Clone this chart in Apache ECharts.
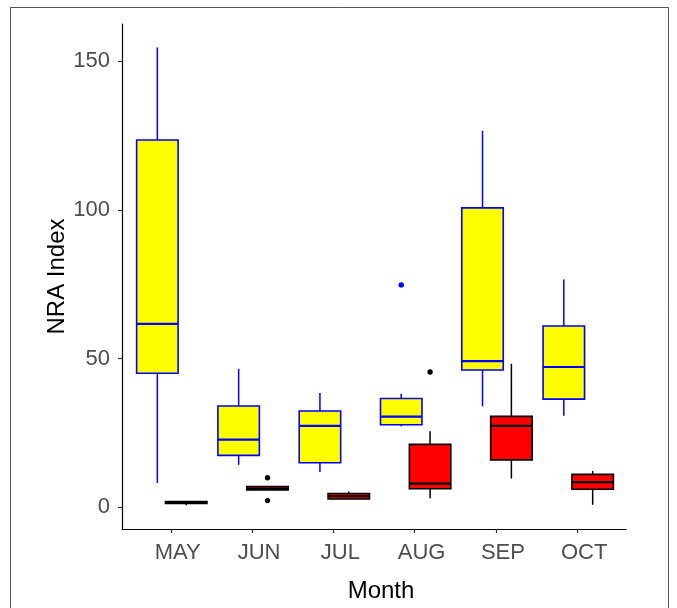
<!DOCTYPE html>
<html>
<head>
<meta charset="utf-8">
<script src="https://cdn.jsdelivr.net/npm/echarts@6/dist/echarts.min.js"></script>
<style>
  html, body { margin: 0; padding: 0; background: #ffffff; }
  #chart { width: 677px; height: 608px; }
</style>
</head>
<body>
<div id="chart"></div>
<script>
// Month categories along the x axis
const months = ['MAY', 'JUN', 'JUL', 'AUG', 'SEP', 'OCT'];

// Box statistics per month: [min, Q1, median, Q3, max]
const yellowBoxes = [
  [8.2, 45.1, 61.7, 123.5, 154.6],
  [14.3, 17.5, 22.8, 34.1, 46.6],
  [11.9, 15.0, 27.4, 32.4, 38.5],
  [27.3, 27.8, 30.5, 36.6, 38.2],
  [34.0, 46.2, 49.2, 100.7, 126.6],
  [30.8, 36.4, 47.2, 61.0, 76.6]
];
const redBoxes = [
  [0.7, 1.3, 1.7, 2.0, 2.0],
  [5.9, 5.9, 6.3, 7.05, 7.05],
  [2.85, 2.85, 3.8, 4.7, 5.35],
  [3.1, 6.3, 8.0, 21.2, 25.6],
  [9.7, 16.0, 27.4, 30.6, 48.3],
  [0.9, 6.1, 8.5, 11.1, 12.3]
];

// Outlying points: [month index, value]
const yellowOutliers = [[3, 74.8]];
const redOutliers = [[1, 10.0], [1, 2.3], [3, 45.5]];

// Tick values on the NRA Index axis
const yTicks = [0, 50, 100, 150];

const BOX_WIDTH = 0.51;      // in category units
const DODGE_LEFT = -0.165;
const DODGE_RIGHT = 0.19;

function boxRenderer(offset, fill, stroke) {
  return function (params, api) {
    const x = api.value(0) + 1 + offset;
    const pMin = api.coord([x, api.value(1)]);
    const pQ1 = api.coord([x, api.value(2)]);
    const pMed = api.coord([x, api.value(3)]);
    const pQ3 = api.coord([x, api.value(4)]);
    const pMax = api.coord([x, api.value(5)]);
    const half = api.size([BOX_WIDTH, 0])[0] / 2;
    const lineStyle = { stroke: stroke, lineWidth: 1.5, fill: null };
    return {
      type: 'group',
      children: [
        { type: 'line', shape: { x1: pMax[0], y1: pMax[1], x2: pQ3[0], y2: pQ3[1] }, style: lineStyle },
        { type: 'line', shape: { x1: pQ1[0], y1: pQ1[1], x2: pMin[0], y2: pMin[1] }, style: lineStyle },
        {
          type: 'rect',
          shape: { x: pQ3[0] - half, y: pQ3[1], width: half * 2, height: pQ1[1] - pQ3[1] },
          style: { fill: fill, stroke: stroke, lineWidth: 1.6 }
        },
        {
          type: 'line',
          shape: { x1: pMed[0] - half, y1: pMed[1], x2: pMed[0] + half, y2: pMed[1] },
          style: { stroke: stroke, lineWidth: 2.2, fill: null }
        }
      ]
    };
  };
}

function outlierRenderer(offset, color) {
  return function (params, api) {
    const p = api.coord([api.value(0) + 1 + offset, api.value(1)]);
    return { type: 'circle', shape: { cx: p[0], cy: p[1], r: 2.7 }, style: { fill: color } };
  };
}

const chart = echarts.init(document.getElementById('chart'), null, { renderer: 'canvas' });

chart.setOption({
  animation: false,
  backgroundColor: '#ffffff',
  textStyle: { fontFamily: 'Liberation Sans, Arial, sans-serif' },
  graphic: [{
    type: 'rect',
    z: -10,
    shape: { x: 10.5, y: 7.5, width: 658, height: 612 },
    style: { fill: null, stroke: '#555555', lineWidth: 1 }
  }],
  grid: { left: 122, right: 51, top: 24, bottom: 76, containLabel: false },
  xAxis: {
    type: 'value',
    min: 0.4,
    max: 6.6,
    name: 'Month',
    nameLocation: 'middle',
    nameMoveOverlap: false,
    nameGap: 50,
    nameTextStyle: { color: '#000000', fontSize: 24, padding: [0, 0, 0, 14] },
    splitLine: { show: false },
    axisLine: { show: true, onZero: false, lineStyle: { color: '#000000', width: 1.2 } },
    axisTick: { show: true, length: 4, customValues: [1, 2, 3, 4, 5, 6], lineStyle: { color: '#333333', width: 1.2 } },
    axisLabel: {
      customValues: [1, 2, 3, 4, 5, 6],
      formatter: function (v) { return months[Math.round(v) - 1]; },
      color: '#4D4D4D',
      fontSize: 22,
      margin: 13,
      padding: [0, 0, 0, 14]
    }
  },
  yAxis: {
    type: 'value',
    min: -7.25,
    max: 162.5,
    name: 'NRA Index',
    nameLocation: 'middle',
    nameMoveOverlap: false,
    nameGap: 53,
    nameTextStyle: { color: '#000000', fontSize: 24 },
    splitLine: { show: false },
    axisLine: { show: true, onZero: false, lineStyle: { color: '#000000', width: 1.2 } },
    axisTick: { show: true, length: 4, customValues: yTicks, lineStyle: { color: '#333333', width: 1.2 } },
    axisLabel: { customValues: yTicks, color: '#4D4D4D', fontSize: 22, margin: 12 }
  },
  series: [
    {
      type: 'custom',
      name: 'yellow',
      renderItem: boxRenderer(DODGE_LEFT, '#FFFF00', '#0000FF'),
      encode: { x: 0, y: [1, 2, 3, 4, 5] },
      data: yellowBoxes.map(function (b, i) { return [i].concat(b); }),
      z: 2
    },
    {
      type: 'custom',
      name: 'red',
      renderItem: boxRenderer(DODGE_RIGHT, '#FF0000', '#000000'),
      encode: { x: 0, y: [1, 2, 3, 4, 5] },
      data: redBoxes.map(function (b, i) { return [i].concat(b); }),
      z: 3
    },
    {
      type: 'custom',
      name: 'yellow outliers',
      renderItem: outlierRenderer(DODGE_LEFT, '#0000FF'),
      encode: { x: 0, y: 1 },
      data: yellowOutliers,
      z: 4
    },
    {
      type: 'custom',
      name: 'red outliers',
      renderItem: outlierRenderer(DODGE_RIGHT, '#000000'),
      encode: { x: 0, y: 1 },
      data: redOutliers,
      z: 4
    }
  ]
});
</script>
</body>
</html>
